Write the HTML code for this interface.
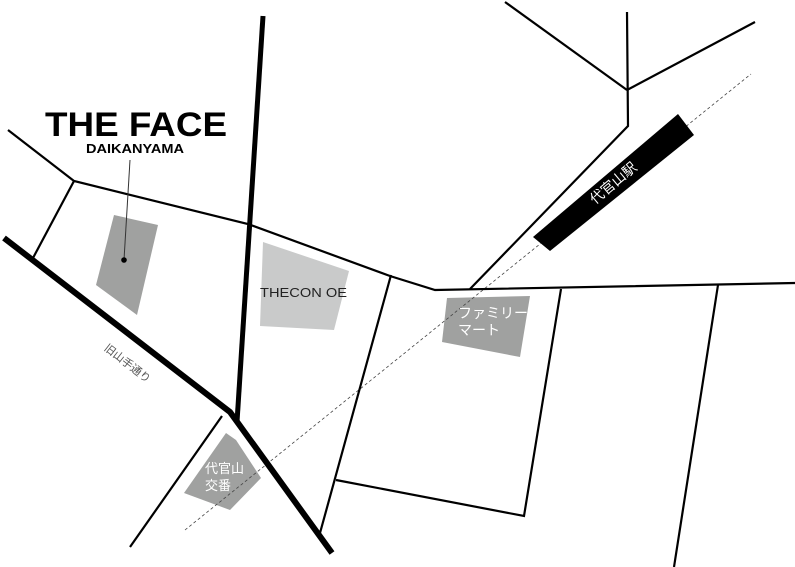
<!DOCTYPE html>
<html><head><meta charset="utf-8"><style>
html,body{margin:0;padding:0;background:#fff;}
svg{display:block;}
text{font-family:"Liberation Sans","Noto Sans CJK JP",sans-serif;}
</style></head><body>
<svg width="795" height="567" viewBox="0 0 795 567" xmlns="http://www.w3.org/2000/svg">
<rect width="795" height="567" fill="#fff"/>
<!-- buildings -->
<polygon points="114,215 158,225 137,315 96,285" fill="#a0a1a0"/>
<polygon points="263,242 349,271 334,330 260,326" fill="#c9caca"/>
<polygon points="447,298 530,296 520,357 442,342" fill="#a0a1a0"/>
<polygon points="226,433 236,440 261,478 230,510 184,493" fill="#a0a1a0"/>
<!-- dashed -->
<line x1="185" y1="530" x2="751" y2="74" stroke="#444" stroke-width="0.8" stroke-dasharray="3,2.5"/>
<!-- thin roads -->
<g fill="none" stroke="#000" stroke-width="2.2" stroke-linejoin="miter">
<polyline points="8,130 74,181 248,224 390,276 435,290 795,283"/>
<line x1="74" y1="181" x2="33" y2="258"/>
<line x1="391" y1="275" x2="320" y2="533"/>
<polyline points="336,480 524,516 561,289"/>
<line x1="222" y1="416" x2="130" y2="547"/>
<polyline points="470,289 628,126 627,12"/>
<line x1="505" y1="2" x2="627" y2="90"/>
<line x1="627" y1="90" x2="755" y2="22"/>
<line x1="718" y1="285" x2="674" y2="567"/>
</g>
<!-- thick roads -->
<line x1="263" y1="16" x2="237" y2="422" stroke="#000" stroke-width="5"/>
<polyline points="4,238 230,412 332,553" fill="none" stroke="#000" stroke-width="6" stroke-linejoin="miter"/>
<!-- station -->
<polygon points="533,237 678,114 694,135 550,251" fill="#000"/>
<text x="0" y="0" transform="translate(614,184) rotate(-40)" fill="#fff" font-size="14" text-anchor="middle" dominant-baseline="middle">代官山駅</text>
<!-- face marker -->
<line x1="130" y1="160" x2="124" y2="260" stroke="#333" stroke-width="1"/>
<circle cx="124" cy="260" r="2.8" fill="#000"/>
<!-- texts -->
<text x="45" y="136" font-size="34" font-weight="bold" fill="#000" textLength="182" lengthAdjust="spacingAndGlyphs">THE FACE</text>
<text x="86" y="153" font-size="13" font-weight="bold" fill="#000" textLength="98" lengthAdjust="spacingAndGlyphs">DAIKANYAMA</text>
<text x="260" y="297" font-size="13" fill="#222" textLength="87" lengthAdjust="spacingAndGlyphs">THECON OE</text>
<text x="458" y="318" font-size="14" fill="#fff">ファミリー</text>
<text x="458" y="335" font-size="14" fill="#fff">マート</text>
<text x="205" y="473" font-size="13" fill="#fff">代官山</text>
<text x="205" y="490" font-size="13" fill="#fff">交番</text>
<text x="0" y="0" transform="translate(127,364) rotate(38)" font-size="11" fill="#555" text-anchor="middle" dominant-baseline="middle">旧山手通り</text>
</svg>
</body></html>
